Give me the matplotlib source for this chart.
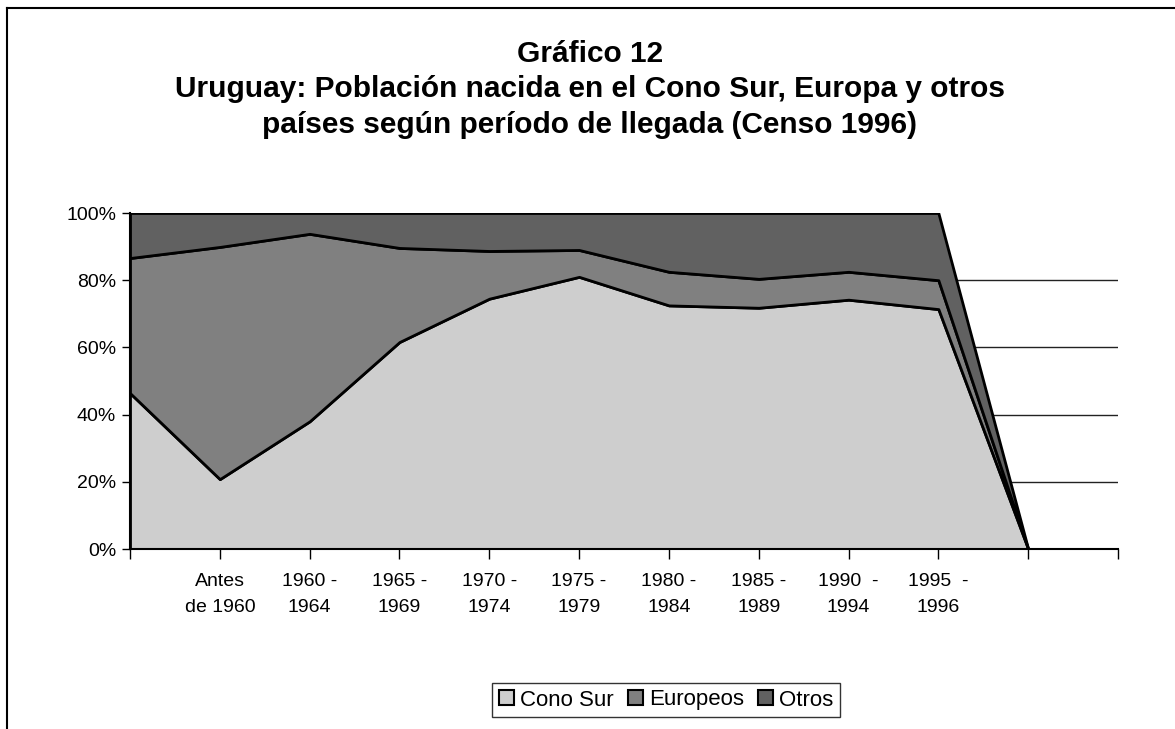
import matplotlib
matplotlib.use("Agg")
import matplotlib.pyplot as plt
import numpy as np
from matplotlib.lines import Line2D
from matplotlib.patches import Patch

plt.rcParams['font.family'] = ['Liberation Sans', 'DejaVu Sans']

# x positions are the category tick marks; labels sit on ticks 1..9
positions = list(range(11))
tick_labels = ['', 'Antes\nde 1960', '1960 -\n1964', '1965 -\n1969', '1970 -\n1974',
               '1975 -\n1979', '1980 -\n1984', '1985 -\n1989', '1990  -\n1994',
               '1995  -\n1996', '', '']

# percentage shares
cono_sur = [46.4, 20.8, 38.0, 61.6, 74.5, 81.0, 72.5, 71.8, 74.2, 71.4, 0.0]
europeos = [40.2, 69.1, 55.8, 28.0, 14.2, 8.0, 10.0, 8.6, 8.3, 8.6, 0.0]
otros = [13.4, 10.1, 6.2, 10.4, 11.3, 11.0, 17.5, 19.6, 17.5, 20.0, 0.0]

series_names = ['Cono Sur', 'Europeos', 'Otros']
colors = ['#cecece', '#808080', '#616161']

fig = plt.figure(figsize=(11.75, 7.29), dpi=100)
ax = fig.add_axes([130 / 1175, 1 - 549 / 729, (1118 - 130) / 1175, (549 - 213) / 729])

ax.stackplot(positions, cono_sur, europeos, otros, colors=colors,
             edgecolor='black', linewidth=2, zorder=3)

ax.set_xlim(0, 11)
ax.set_ylim(0, 100)
ax.set_xticks(range(12))
ax.set_xticklabels(tick_labels, fontsize=14, linespacing=1.7)
ax.set_yticks([0, 20, 40, 60, 80, 100])
ax.set_yticklabels([f'{v}%' for v in [0, 20, 40, 60, 80, 100]], fontsize=14)
ax.tick_params(axis='x', direction='out', length=7, width=1, pad=10)
ax.tick_params(axis='y', direction='out', length=6, width=1, pad=4)

for v in [20, 40, 60, 80]:
    ax.axhline(v, color='#222222', linewidth=1, zorder=1)

for side in ['top', 'right']:
    ax.spines[side].set_visible(False)
for side in ['left', 'bottom']:
    ax.spines[side].set_linewidth(1.5)
    ax.spines[side].set_zorder(4)

fig.text(590 / 1175, 1 - 40 / 729,
         'Gráfico 12\nUruguay: Población nacida en el Cono Sur, Europa y otros\n'
         'países según período de llegada (Censo 1996)',
         ha='center', va='top', fontsize=21.5, fontweight='bold', linespacing=1.34,
         transform=fig.transFigure)

handles = [Patch(facecolor=c, edgecolor='black', linewidth=1.5) for c in colors]
leg = fig.legend(handles, series_names, loc='center', bbox_to_anchor=(666 / 1175, 1 - 700 / 729),
                 ncol=3, fontsize=16, frameon=True, fancybox=False, handlelength=0.68,
                 handleheight=0.68, handletextpad=0.27, columnspacing=0.63, borderpad=0.3)
leg.get_frame().set_edgecolor('black')
leg.get_frame().set_linewidth(1)

# outer chart border (left and top only visible)
fig.add_artist(Line2D([7 / 1175, 7 / 1175], [0, 1 - 8 / 729], color='black', linewidth=1.5))
fig.add_artist(Line2D([7 / 1175, 1], [1 - 8 / 729, 1 - 8 / 729], color='black', linewidth=1.5))

fig.savefig('out.png', dpi=100, facecolor='white')
